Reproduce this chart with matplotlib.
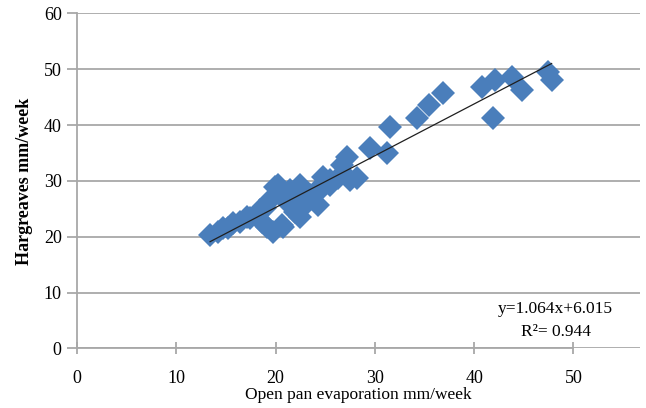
import numpy as np
import matplotlib.pyplot as plt

plt.rcParams['font.family'] = ['Liberation Serif', 'DejaVu Serif']

# values (mm/week)
pan_evap = [13.4, 14.2, 14.7, 15.2, 15.7, 16.4, 17.1, 17.4, 18.4, 18.6,
            18.9, 19.1, 19.4, 19.7, 19.9, 20.2, 20.6, 20.7, 20.9, 21.1,
            21.5, 21.8, 22.0, 22.3, 22.5, 22.5, 22.5, 23.2, 23.5, 24.2,
            24.3, 24.5, 24.8, 25.5, 25.5, 26.3, 26.7, 27.2, 27.5, 28.2,
            29.5, 31.2, 31.5, 34.2, 35.5, 36.9, 40.8, 42.1, 43.8, 41.9,
            44.8, 47.4, 47.8]
hargreaves = [20.4, 20.9, 21.6, 21.6, 22.5, 22.7, 23.6, 23.4, 24.8, 22.7,
              25.2, 21.8, 26.6, 20.9, 28.9, 29.3, 22.1, 21.8, 26.6, 26.6,
              28.4, 25.4, 24.5, 27.0, 29.3, 23.6, 24.8, 27.0, 27.5, 28.4,
              25.7, 28.4, 30.7, 30.2, 29.3, 30.5, 32.9, 34.3, 30.2, 30.5,
              35.9, 35.0, 39.6, 41.2, 43.6, 45.7, 46.8, 48.0, 48.6, 41.2,
              46.3, 49.5, 48.0]

x_ticks = [0, 10, 20, 30, 40, 50]
y_ticks = [0, 10, 20, 30, 40, 50, 60]
eq_label = 'y=1.064x+6.015'
r2_label = 'R\u00b2= 0.944'

grey = '#A8A8A8'

fig = plt.figure(figsize=(6.46, 4.08), dpi=100)
ax = fig.add_axes([0.1192, 0.146, 0.8715, 0.821])

ax.plot(pan_evap, hargreaves, 'D', ms=12.5, mew=0, color='#4A7EBB', zorder=3)

# linear trend line through the points
slope, icpt = np.polyfit(pan_evap, hargreaves, 1)
xs = np.array([min(pan_evap), max(pan_evap)])
ax.plot(xs, slope * xs + icpt, color='#1f1f1f', lw=0.9, zorder=4)

ax.set_xlim(0, 56.7)
ax.set_ylim(0, 60)
ax.set_xticks(x_ticks)
ax.set_yticks(y_ticks)
ax.grid(axis='y', color=grey, lw=1.3)
ax.set_axisbelow(True)

for s in ['top', 'right']:
    ax.spines[s].set_visible(False)
ax.spines['left'].set_color(grey)
ax.spines['bottom'].set_color(grey)
ax.spines['left'].set_linewidth(1.3)
ax.spines['bottom'].set_linewidth(1.3)
ax.spines['bottom'].set_bounds(0, 50)

ax.tick_params(axis='y', direction='out', length=7, width=1.3, color=grey,
               pad=4, labelsize=13)
ax.tick_params(axis='x', direction='inout', length=9, width=1.3, color=grey,
               pad=11, labelsize=13)

ax.set_xlabel('Open pan evaporation mm/week', fontsize=12.5, labelpad=0)
ax.set_ylabel('Hargreaves mm/week', fontsize=13, fontweight='bold', labelpad=8)

ax.text(48.2, 7.0, eq_label, ha='center', va='center', fontsize=12.5)
ax.text(48.2, 3.0, r2_label, ha='center', va='center', fontsize=12.5)

fig.savefig('out.png', dpi=100)
